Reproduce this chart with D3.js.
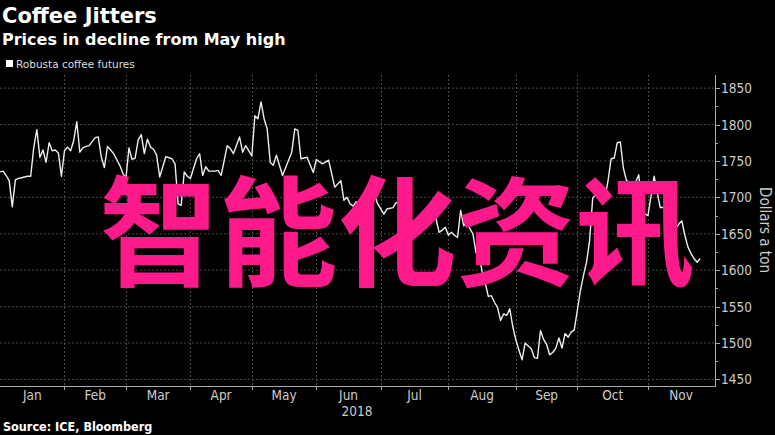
<!DOCTYPE html>
<html><head><meta charset="utf-8">
<script src="https://cdn.jsdelivr.net/npm/d3@7"></script>
<style>html,body{margin:0;padding:0;background:#000;}svg{display:block}</style>
</head><body><svg id="c" width="775" height="435"></svg>
<script>
const year = "2018";
const dates = ["01-03","01-04","01-05","01-08","01-09","01-10","01-11","01-12","01-15","01-16","01-17","01-18","01-19","01-22","01-23","01-24","01-25","01-26","01-29","01-30","01-31",
"02-01","02-02","02-05","02-06","02-07","02-08","02-09","02-12","02-13","02-15","02-16","02-19","02-20","02-21","02-22","02-23","02-26","02-27","02-28",
"03-01","03-02","03-05","03-06","03-07","03-08","03-09","03-12","03-13","03-14","03-15","03-16","03-20","03-22","03-23","03-26","03-27","03-28","03-29",
"04-03","04-05","04-06","04-09","04-10","04-11","04-13","04-16","04-17","04-19","04-20","04-23","04-25","04-26","04-27",
"05-01","05-02","05-03","05-04","05-08","05-09","05-10","05-11","05-14","05-15","05-16","05-21","05-22","05-23","05-24","05-29","05-31",
"06-01","06-05","06-07","06-11","06-13","06-14","06-15","06-18","06-19","06-20","06-21","06-22","06-25","06-26","06-28","06-29",
"07-03","07-04","07-06","07-09","07-10","07-11","07-12","07-13","07-18","07-19","07-20","07-23","07-24","07-25","07-26","07-27","07-30","07-31",
"08-01","08-02","08-03","08-06","08-07","08-08","08-09","08-10","08-13","08-14","08-15","08-16","08-17","08-20","08-21","08-22","08-23","08-24","08-28","08-29","08-30","08-31",
"09-03","09-04","09-05","09-06","09-07","09-10","09-11","09-12","09-13","09-14","09-17","09-18","09-19","09-20","09-21","09-24","09-25","09-26","09-27","09-28",
"10-01","10-02","10-03","10-04","10-05","10-08","10-09","10-10","10-11","10-12","10-15","10-16","10-17","10-18","10-19","10-22","10-23","10-24","10-25","10-26","10-29","10-30","10-31",
"11-01","11-05","11-06","11-07","11-08","11-09","11-12","11-13","11-14","11-15","11-16","11-19","11-20","11-21","11-22","11-23","11-26"];
const prices = [1735,1736,1730,1723,1687,1724,1726,1727,1728,1729,1729,1769,1793,1755,1765,1748,1775,1764,1765,1761,1729,
1764,1769,1764,1778,1804,1762,1768,1770,1771,1782,1783,1755,1741,1770,1765,1760,1752,1744,1733,
1726,1768,1752,1754,1779,1786,1760,1780,1769,1766,1758,1728,1756,1753,1746,1691,1689,1735,1729,
1726,1753,1760,1730,1742,1736,1736,1737,1730,1771,1767,1760,1783,1762,1771,
1757,1812,1808,1831,1808,1794,1748,1744,1758,1744,1730,1762,1794,1792,1753,1755,1734,
1752,1746,1751,1714,1723,1696,1700,1691,1688,1694,1690,1698,1700,1677,1703,1691,
1677,1684,1686,1693,1690,1705,1687,1673,1659,1668,1657,1665,1678,1687,1670,1652,1655,1659,
1648,1652,1648,1645,1682,1661,1668,1657,1650,1624,1620,1598,1583,1564,1565,1556,1549,1531,1540,1538,1547,1522,
1504,1490,1477,1500,1496,1492,1480,1479,1517,1505,1498,1484,1487,1493,1507,1493,1513,1508,1515,1518,
1545,1572,1593,1611,1641,1699,1704,1700,1698,1700,1723,1753,1754,1775,1776,1740,1723,1721,1721,1721,1731,1687,1677,
1675,1729,1707,1686,1686,1685,1683,1656,1657,1663,1668,1648,1632,1623,1616,1611,1616];
const holidays = ["2018-01-01","2018-03-30","2018-04-02","2018-05-07","2018-05-28","2018-08-27"];
const monthLabels = ["Jan","Feb","Mar","Apr","May","Jun","Jul","Aug","Sep","Oct","Nov"];
const yTicks = [1450,1500,1550,1600,1650,1700,1750,1800,1850];
const yMinor = [1475,1525,1575,1625,1675,1725,1775,1825];

const W = 775, H = 435;
const plot = {left: 0, right: 714, top: 75, bottom: 386};
const svg = d3.select("#c");
svg.append("rect").attr("width", W).attr("height", H).attr("fill", "#000");

// trading calendar (weekdays without exchange holidays)
const fmt = d3.utcFormat("%Y-%m-%d");
const cal = d3.utcDays(new Date(Date.UTC(2018,0,1)), new Date(Date.UTC(2018,11,5)))
  .filter(d => d.getUTCDay() % 6 !== 0 && !holidays.includes(fmt(d)));
const idx = new Map(cal.map((d, i) => [fmt(d), i]));

const x = d3.scaleLinear().domain([1, 233.5]).range([plot.left, plot.right]);
const y = d3.scaleLinear().domain([1441, 1868]).range([plot.bottom, plot.top]);

// month starts
const monthStart = [];
for (let m = 0; m <= 11; m++) {
  const i = cal.findIndex(d => d.getUTCMonth() === m);
  monthStart.push(i);
}

const grid = svg.append("g");
grid.selectAll("line.h").data(yTicks).join("line")
  .attr("x1", plot.left).attr("x2", plot.right)
  .attr("y1", d => y(d)).attr("y2", d => y(d))
  .attr("stroke", "#4a4a4a").attr("stroke-dasharray", "2,2").attr("stroke-width", 1);
grid.selectAll("line.v").data(monthStart.slice(1, 11)).join("line")
  .attr("x1", d => Math.round(x(d)) + 0.5).attr("x2", d => Math.round(x(d)) + 0.5)
  .attr("y1", plot.top).attr("y2", plot.bottom)
  .attr("stroke", "#4a4a4a").attr("stroke-dasharray", "2,2").attr("stroke-width", 1);

// line
svg.append("clipPath").attr("id", "clip").append("rect")
  .attr("x", plot.left).attr("y", plot.top).attr("width", plot.right - plot.left).attr("height", plot.bottom - plot.top);
const pts = dates.map((d, i) => ({i: idx.get(year + "-" + d), v: prices[i]}));
svg.append("path").datum(pts).attr("clip-path", "url(#clip)")
  .attr("fill", "none").attr("stroke", "#eeeeee").attr("stroke-width", 1.4).attr("stroke-linejoin", "round")
  .attr("d", d3.line().x(d => x(d.i)).y(d => y(d.v)));

// axes
const axc = "#aaaaaa";
svg.append("line").attr("x1", plot.left).attr("x2", plot.right + 1)
  .attr("y1", plot.bottom + 0.5).attr("y2", plot.bottom + 0.5).attr("stroke", axc);
svg.append("line").attr("x1", plot.right + 1.5).attr("x2", plot.right + 1.5)
  .attr("y1", plot.top).attr("y2", plot.bottom + 1).attr("stroke", axc);
svg.selectAll("line.mt").data(monthStart.slice(1, 11)).join("line")
  .attr("x1", d => Math.round(x(d)) + 0.5).attr("x2", d => Math.round(x(d)) + 0.5)
  .attr("y1", plot.bottom).attr("y2", plot.bottom + 4).attr("stroke", axc);
svg.selectAll("line.yt").data(yTicks).join("line")
  .attr("x1", plot.right + 1).attr("x2", plot.right + 6)
  .attr("y1", d => Math.round(y(d)) + 0.5).attr("y2", d => Math.round(y(d)) + 0.5).attr("stroke", axc);
svg.selectAll("line.ym").data(yMinor).join("line")
  .attr("x1", plot.right + 1).attr("x2", plot.right + 4)
  .attr("y1", d => Math.round(y(d)) + 0.5).attr("y2", d => Math.round(y(d)) + 0.5).attr("stroke", axc);

const lblFont = "'DejaVu Sans Condensed', 'DejaVu Sans', sans-serif";
svg.selectAll("text.yl").data(yTicks).join("text")
  .attr("x", plot.right + 7).attr("y", d => y(d) + 5)
  .attr("fill", "#cccccc").attr("font-family", lblFont).attr("font-size", 13.5)
  .text(d => d);

svg.selectAll("text.ml").data(monthLabels).join("text")
  .attr("x", (d, m) => {
    const a = Math.max(x(monthStart[m]), plot.left);
    const b = Math.min(x(monthStart[m + 1]), plot.right);
    return (a + b) / 2;
  })
  .attr("y", 400).attr("text-anchor", "middle")
  .attr("fill", "#cccccc").attr("font-family", lblFont).attr("font-size", 13.5)
  .text(d => d);
svg.append("text").attr("x", (plot.left + plot.right) / 2).attr("y", 416).attr("text-anchor", "middle")
  .attr("fill", "#cccccc").attr("font-family", lblFont).attr("font-size", 13.5).text(year);

svg.append("text").attr("transform", "translate(760,230) rotate(90)").attr("text-anchor", "middle")
  .attr("fill", "#cccccc").attr("font-family", lblFont).attr("font-size", 15).text("Dollars a ton");

// titles
svg.append("text").attr("x", 2).attr("y", 23).attr("fill", "#ffffff")
  .attr("font-family", "'DejaVu Sans', sans-serif").attr("font-weight", "bold").attr("font-size", 21)
  .text("Coffee Jitters");
svg.append("text").attr("x", 2).attr("y", 45).attr("fill", "#ffffff")
  .attr("font-family", "'DejaVu Sans', sans-serif").attr("font-weight", "bold").attr("font-size", 16)
  .text("Prices in decline from May high");
svg.append("rect").attr("x", 6).attr("y", 60).attr("width", 7).attr("height", 7).attr("fill", "#ffffff");
svg.append("text").attr("x", 16).attr("y", 68).attr("fill", "#dddddd")
  .attr("font-family", "'DejaVu Sans', sans-serif").attr("font-size", 10.5)
  .text("Robusta coffee futures");
svg.append("text").attr("x", 3).attr("y", 431).attr("fill", "#ffffff")
  .attr("font-family", "'DejaVu Sans Condensed', 'DejaVu Sans', sans-serif").attr("font-weight", "bold").attr("font-size", 12.5)
  .text("Source: ICE, Bloomberg");

// overlay text
svg.append("text").attr("x", 397).attr("y", 277).attr("text-anchor", "middle")
  .attr("fill", "#ff1a8c").attr("font-family", "'Noto Sans CJK SC', sans-serif").attr("font-weight", 700)
  .attr("font-size", 119).text("智能化资讯");
</script></body></html>
